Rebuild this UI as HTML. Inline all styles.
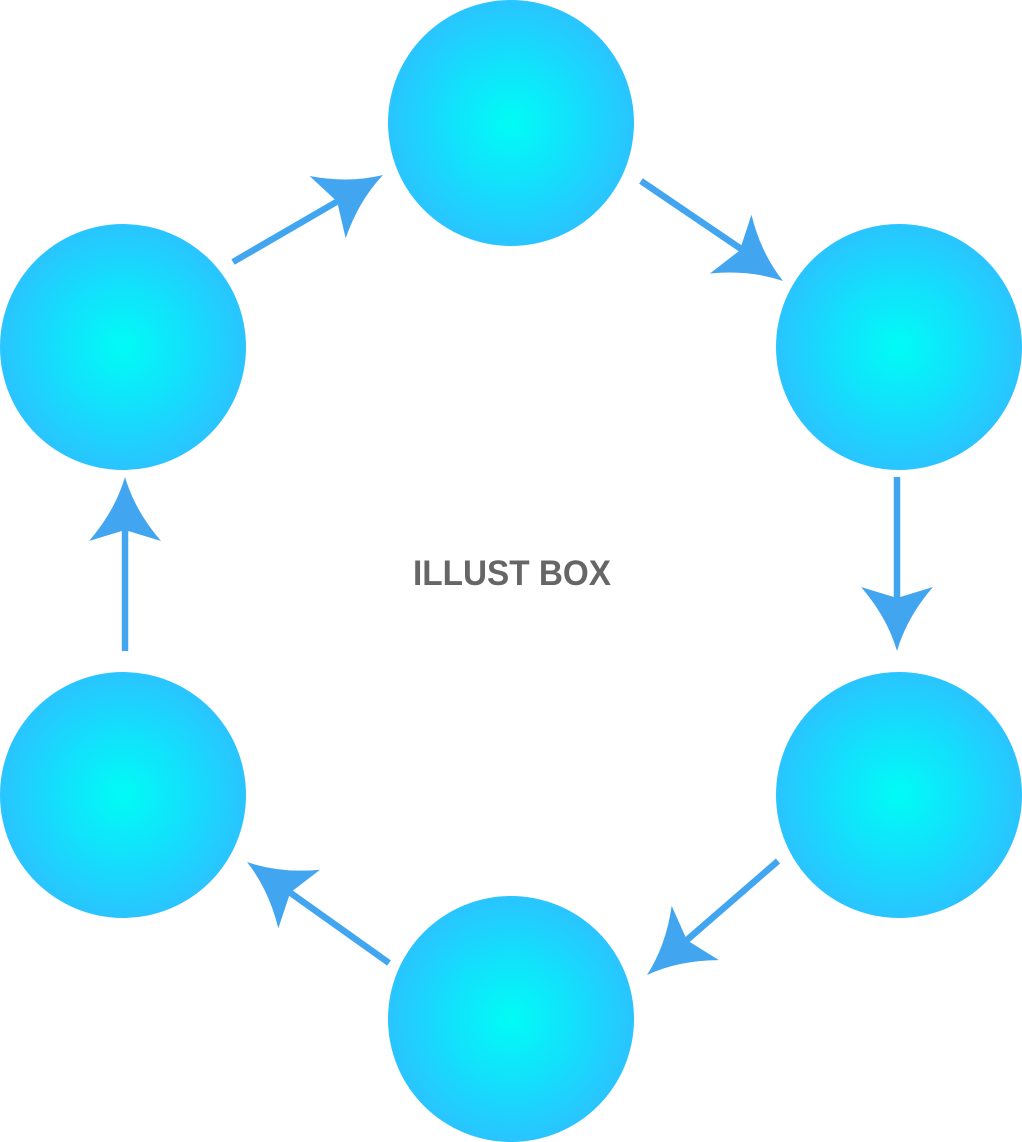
<!DOCTYPE html>
<html><head><style>html,body{margin:0;padding:0;background:#fff;width:1022px;height:1142px;overflow:hidden}</style></head>
<body>
<svg width="1022" height="1142" viewBox="0 0 1022 1142" xmlns="http://www.w3.org/2000/svg">
<defs>
<radialGradient id="g" cx="50%" cy="50%" r="50%">
<stop offset="0" stop-color="#00fcf6"/>
<stop offset="0.55" stop-color="#14defc"/>
<stop offset="1" stop-color="#2ac4ff"/>
</radialGradient>
<path id="h" d="M0,0 Q-34,-10 -64,-36 L-53,0 L-64,36 Q-34,10 0,0 Z" fill="#42a5f0"/>
</defs>
<g fill="url(#g)">
<circle cx="511" cy="123" r="123"/>
<circle cx="899" cy="347" r="123"/>
<circle cx="899" cy="795" r="123"/>
<circle cx="511" cy="1019" r="123"/>
<circle cx="123" cy="795" r="123"/>
<circle cx="123" cy="347" r="123"/>
</g>
<g stroke="#42a5f0" stroke-width="6.5">
<line x1="233" y1="262" x2="345" y2="197"/>
<line x1="641" y1="181" x2="750" y2="255"/>
<line x1="897" y1="477" x2="897" y2="605"/>
<line x1="778" y1="861" x2="680" y2="946"/>
<line x1="389" y1="963" x2="285" y2="889"/>
<line x1="125" y1="651" x2="125" y2="520"/>
</g>
<use href="#h" transform="translate(383,175) rotate(-30.1)"/>
<use href="#h" transform="translate(783,281) rotate(35.2)"/>
<use href="#h" transform="translate(897,651) rotate(90)"/>
<use href="#h" transform="translate(647,975) rotate(139)"/>
<use href="#h" transform="translate(247,862) rotate(215.4)"/>
<use href="#h" transform="translate(125,477) rotate(-90)"/>
<text x="413" y="585" font-family="Liberation Sans, sans-serif" font-weight="bold" font-size="35" textLength="198" lengthAdjust="spacingAndGlyphs" fill="#666">ILLUST BOX</text>
</svg>
</body></html>
